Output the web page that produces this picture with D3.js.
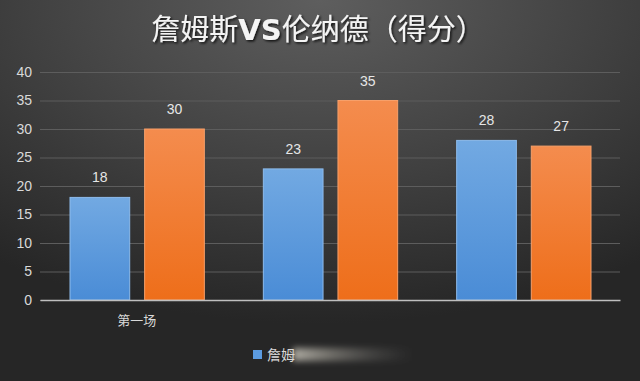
<!DOCTYPE html>
<html>
<head>
<meta charset="utf-8">
<script src="https://cdn.jsdelivr.net/npm/d3@7"></script>
<style>
  html, body { margin: 0; padding: 0; background: #3a3a3a; }
  svg { display: block; }
</style>
</head>
<body>
<div id="chart"></div>
<script>
(function () {
  "use strict";

  // dados
  const categories = ["第一场", "第二场", "第三场"];
  const tickLabels = ["第一场", "", ""]; // só o primeiro rótulo aparece na imagem
  const seriesNames = ["詹姆斯", "伦纳德"];
  const jamesValues = [18, 23, 28];
  const leonardValues = [30, 35, 27];
  const yTicks = [0, 5, 10, 15, 20, 25, 30, 35, 40];

  const width = 640, height = 381;
  const margin = { top: 72, right: 20, bottom: 81, left: 40 };
  const innerW = width - margin.left - margin.right;
  const innerH = height - margin.top - margin.bottom;

  const svg = d3.select("#chart").append("svg")
    .attr("width", width).attr("height", height);

  const defs = svg.append("defs");

  // fundo: cinza escuro com brilho no topo central
  const bg = defs.append("radialGradient").attr("id", "bg")
    .attr("cx", "50%").attr("cy", "0%").attr("r", "85%");
  bg.append("stop").attr("offset", "0%").attr("stop-color", "#5e5e5e");
  bg.append("stop").attr("offset", "55%").attr("stop-color", "#404040");
  bg.append("stop").attr("offset", "100%").attr("stop-color", "#262626");

  const blueGrad = defs.append("linearGradient").attr("id", "blueGrad")
    .attr("x1", 0).attr("y1", 0).attr("x2", 0).attr("y2", 1);
  blueGrad.append("stop").attr("offset", "0%").attr("stop-color", "#72a9e2");
  blueGrad.append("stop").attr("offset", "100%").attr("stop-color", "#4a8cd6");

  const orangeGrad = defs.append("linearGradient").attr("id", "orangeGrad")
    .attr("x1", 0).attr("y1", 0).attr("x2", 0).attr("y2", 1);
  orangeGrad.append("stop").attr("offset", "0%").attr("stop-color", "#f48c4e");
  orangeGrad.append("stop").attr("offset", "100%").attr("stop-color", "#ee6e1a");

  const smear = defs.append("linearGradient").attr("id", "smear")
    .attr("x1", 0).attr("y1", 0).attr("x2", 1).attr("y2", 0);
  smear.append("stop").attr("offset", "0%").attr("stop-color", "#d8d4c8").attr("stop-opacity", 0.75);
  smear.append("stop").attr("offset", "35%").attr("stop-color", "#bdb9ae").attr("stop-opacity", 0.45);
  smear.append("stop").attr("offset", "100%").attr("stop-color", "#777").attr("stop-opacity", 0);

  const blur = defs.append("filter").attr("id", "blur").attr("x", "-20%").attr("y", "-100%")
    .attr("width", "140%").attr("height", "300%");
  blur.append("feGaussianBlur").attr("stdDeviation", 3);

  const shadow = defs.append("filter").attr("id", "shadow");
  shadow.append("feDropShadow").attr("dx", 1.5).attr("dy", 1.5)
    .attr("stdDeviation", 1).attr("flood-color", "#000").attr("flood-opacity", 0.8);

  svg.append("rect").attr("width", width).attr("height", height).attr("fill", "url(#bg)");

  // título
  const title = svg.append("text")
    .attr("x", width / 2 - 2).attr("y", 40)
    .attr("text-anchor", "middle")
    .attr("fill", "#f4f4f4")
    .attr("font-family", "'Noto Sans CJK SC', sans-serif")
    .attr("font-size", 29)
    .attr("filter", "url(#shadow)");
  title.append("tspan").text("詹姆斯");
  title.append("tspan").attr("font-weight", 700).attr("font-family", "'DejaVu Sans', sans-serif").text("VS");
  title.append("tspan").text("伦纳德（得分）");

  const g = svg.append("g").attr("transform", `translate(${margin.left},${margin.top})`);

  const y = d3.scaleLinear().domain([0, 40]).range([innerH, 0]);
  const x0 = d3.scaleBand().domain(categories).range([0, innerW]).paddingInner(0).paddingOuter(0);
  const x1 = d3.scaleBand().domain(seriesNames).range([30, x0.bandwidth() - 29]).paddingInner(0.2);

  // eixo Y + gridlines
  g.append("g")
    .call(d3.axisLeft(y).tickValues(yTicks).tickSize(-innerW).tickPadding(8))
    .call((s) => s.select(".domain").remove())
    .call((s) => s.selectAll("line").attr("stroke", "#5d5d5d").attr("stroke-width", 1))
    .call((s) => s.selectAll("text")
      .attr("fill", "#d9d9d9").attr("font-size", 14)
      .attr("font-family", "'Liberation Sans', sans-serif"));

  const series = [
    { name: seriesNames[0], values: jamesValues, fill: "url(#blueGrad)", stroke: "#8dbbec" },
    { name: seriesNames[1], values: leonardValues, fill: "url(#orangeGrad)", stroke: "#f7a06a" },
  ];

  series.forEach((s) => {
    const grp = g.append("g");
    grp.selectAll("rect").data(categories).join("rect")
      .attr("x", (c) => x0(c) + x1(s.name))
      .attr("width", x1.bandwidth())
      .attr("y", (c, i) => y(s.values[i]))
      .attr("height", (c, i) => innerH - y(s.values[i]))
      .attr("fill", s.fill)
      .attr("stroke", s.stroke)
      .attr("stroke-width", 1);
    grp.selectAll("text").data(categories).join("text")
      .attr("x", (c) => x0(c) + x1(s.name) + x1.bandwidth() / 2)
      .attr("y", (c, i) => y(s.values[i]) - 15)
      .attr("text-anchor", "middle")
      .attr("fill", "#e6e6e6")
      .attr("font-size", 14)
      .attr("font-family", "'Liberation Sans', sans-serif")
      .text((c, i) => s.values[i]);
  });

  // eixo X
  g.append("g")
    .attr("transform", `translate(0,${innerH})`)
    .call(d3.axisBottom(x0).tickSize(0).tickPadding(16).tickFormat((c, i) => tickLabels[i]))
    .call((s) => s.select(".domain").attr("stroke", "#bfbfbf").attr("stroke-width", 1.5))
    .call((s) => s.selectAll("text")
      .attr("fill", "#d9d9d9").attr("font-size", 13)
      .attr("font-family", "'Noto Sans CJK SC', sans-serif"));

  // legenda (parcialmente encoberta na imagem original)
  const legend = svg.append("g").attr("transform", "translate(253,350)");
  legend.append("rect").attr("x", 0).attr("y", 0).attr("width", 9).attr("height", 9)
    .attr("fill", "#5b9be0");
  legend.append("text").attr("x", 14).attr("y", 10)
    .attr("fill", "#d9d9d9").attr("font-size", 14)
    .attr("font-family", "'Noto Sans CJK SC', sans-serif")
    .text(seriesNames[0].slice(0, 2));
  legend.append("rect").attr("x", 40).attr("y", -2).attr("width", 120).attr("height", 13)
    .attr("fill", "url(#smear)").attr("filter", "url(#blur)");
})();
</script>
</body>
</html>
